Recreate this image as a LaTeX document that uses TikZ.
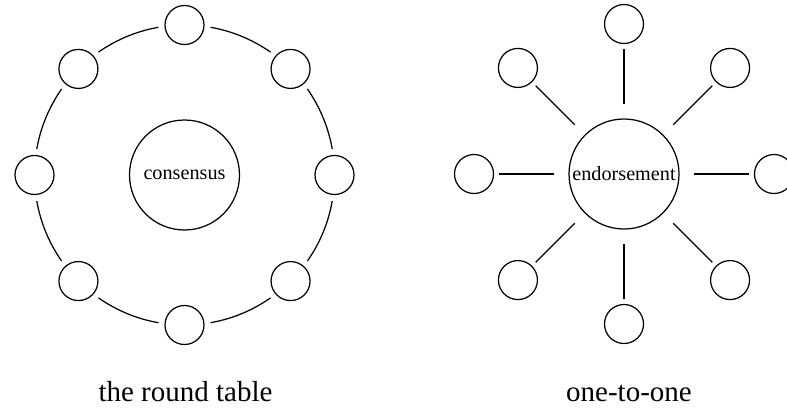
\documentclass[tikz,border=0pt]{standalone}
\usepackage{fontspec}
\setmainfont{Liberation Serif}
\begin{document}
\begin{tikzpicture}[
    seat/.style={draw, circle, minimum size=0.78cm, inner sep=0pt},
    hub/.style={draw, circle, minimum size=2.2cm, inner sep=0pt, font=\fontsize{11.5}{13}\selectfont},
    spoke/.style={shorten <=0.28cm, shorten >=0.1cm},
    caption/.style={anchor=base, font=\fontsize{16.5}{18}\selectfont},
    line width=0.7pt]
    \useasboundingbox (0,0) rectangle (15.74,-8.14);

    % the round table
    \begin{scope}[shift={(3.69,-3.5)}]
        \node[hub] (cons) at (0,0) {consensus};

        \node[seat] (a1) at (0:3) {};
        \node[seat] (a2) at (45:3) {};
        \node[seat] (a3) at (90:3) {};
        \node[seat] (a4) at (135:3) {};
        \node[seat] (a5) at (180:3) {};
        \node[seat] (a6) at (225:3) {};
        \node[seat] (a7) at (270:3) {};
        \node[seat] (a8) at (315:3) {};

        \draw (10:3) arc (10:35:3);
        \draw (55:3) arc (55:80:3);
        \draw (100:3) arc (100:125:3);
        \draw (145:3) arc (145:170:3);
        \draw (190:3) arc (190:215:3);
        \draw (235:3) arc (235:260:3);
        \draw (280:3) arc (280:305:3);
        \draw (325:3) arc (325:350:3);
    \end{scope}

    % one-to-one
    \begin{scope}[shift={(12.48,-3.48)}]
        \node[hub] (endo) at (0,0) {endorsement};

        \node[seat] (b1) at (0:3) {};
        \node[seat] (b2) at (45:3) {};
        \node[seat] (b3) at (90:3) {};
        \node[seat] (b4) at (135:3) {};
        \node[seat] (b5) at (180:3) {};
        \node[seat] (b6) at (225:3) {};
        \node[seat] (b7) at (270:3) {};
        \node[seat] (b8) at (315:3) {};
    \end{scope}

    \draw [spoke] (endo) -- (b1);
    \draw [spoke] (endo) -- (b2);
    \draw [spoke] (endo) -- (b3);
    \draw [spoke] (endo) -- (b4);
    \draw [spoke] (endo) -- (b5);
    \draw [spoke] (endo) -- (b6);
    \draw [spoke] (endo) -- (b7);
    \draw [spoke] (endo) -- (b8);

    \node[caption] (roundlbl) at (3.71,-8.02) {the round table};
    \node[caption] (onelbl) at (12.58,-8.02) {one-to-one};
\end{tikzpicture}
\end{document}
